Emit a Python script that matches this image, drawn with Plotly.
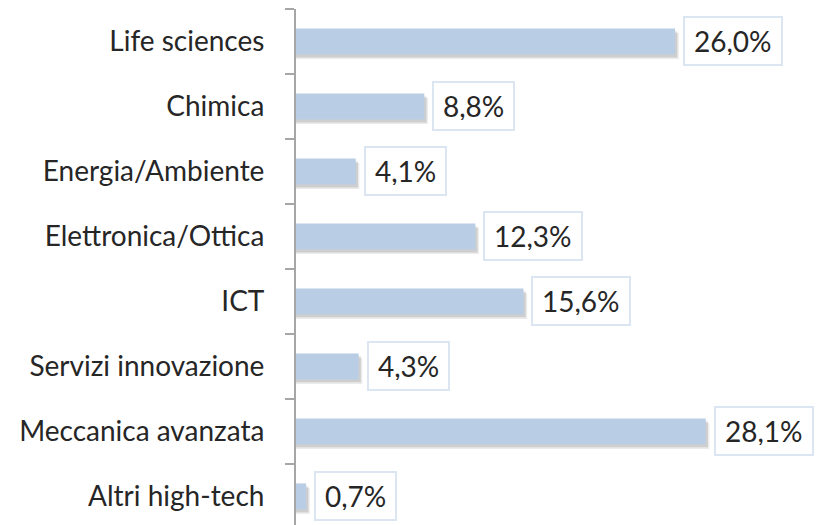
import plotly.graph_objects as go

categories = ["Life sciences", "Chimica", "Energia/Ambiente", "Elettronica/Ottica",
              "ICT", "Servizi innovazione", "Meccanica avanzata", "Altri high-tech"]
values = [26.0, 8.8, 4.1, 12.3, 15.6, 4.3, 28.1, 0.7]

cats = categories[::-1]
vals = values[::-1]
labels = [f"{v:.1f}%".replace(".", ",") for v in vals]

BAR_W = 0.4
fig = go.Figure()
# soft shadow layers
for dx, dy, a in [(0.25, 0.07, 0.08), (0.15, 0.045, 0.12)]:
    fig.add_trace(go.Bar(
        y=cats, x=[v + dx for v in vals], orientation="h", width=BAR_W,
        offset=-BAR_W / 2 - dy, marker=dict(color=f"rgba(0,0,0,{a})", line_width=0),
        hoverinfo="skip", showlegend=False))
fig.add_trace(go.Bar(
    y=cats, x=vals, orientation="h", width=BAR_W, offset=-BAR_W / 2,
    marker=dict(color="#B9CDE5", line_width=0), showlegend=False))

for c, v, t in zip(cats, vals, labels):
    fig.add_annotation(x=v, y=c, xref="x", yref="y", text=t, showarrow=False,
                       xanchor="left", xshift=8, yanchor="middle",
                       font=dict(family="Lato", size=28, color="#262626"),
                       bgcolor="white", bordercolor="#DCE6F2", borderwidth=2,
                       borderpad=9, height=28)

# page body has an 8px default margin, so the figure is sized to fill the rest
fig.update_layout(
    width=817, height=517, barmode="overlay",
    margin=dict(l=288, r=0, t=1, b=0, autoexpand=False),
    paper_bgcolor="white", plot_bgcolor="white",
    xaxis=dict(range=[0, 36.28], visible=False, automargin=False),
    yaxis=dict(type="category", range=[-0.44, 7.5], tickson="boundaries",
               automargin=False,
               showline=True, linecolor="#A6A6A6", linewidth=2,
               ticks="outside", ticklen=9, tickcolor="#A6A6A6", tickwidth=2,
               ticklabelstandoff=24, showgrid=False,
               tickfont=dict(family="Lato", size=28, color="#262626")),
)
fig.write_html("out.html")
